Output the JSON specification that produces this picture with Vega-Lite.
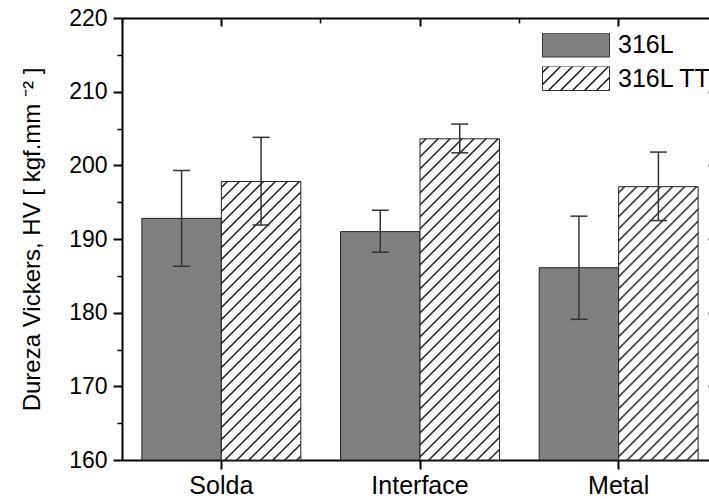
{
  "$schema": "https://vega.github.io/schema/vega-lite/v6.json",
  "width": 587,
  "height": 442,
  "autosize": "none",
  "padding": {"left": 122, "top": 18, "right": 0, "bottom": 39},
  "background": "white",
  "params": [
    {"name": "hatch", "value": [
      {"offset": 0.010294, "color": "#fff"}, {"offset": 0.014706, "color": "#000"}, {"offset": 0.019118, "color": "#fff"},
      {"offset": 0.039706, "color": "#fff"}, {"offset": 0.044118, "color": "#000"}, {"offset": 0.04853, "color": "#fff"},
      {"offset": 0.069117, "color": "#fff"}, {"offset": 0.073529, "color": "#000"}, {"offset": 0.077941, "color": "#fff"},
      {"offset": 0.098529, "color": "#fff"}, {"offset": 0.102941, "color": "#000"}, {"offset": 0.107353, "color": "#fff"},
      {"offset": 0.127941, "color": "#fff"}, {"offset": 0.132353, "color": "#000"}, {"offset": 0.136765, "color": "#fff"},
      {"offset": 0.157353, "color": "#fff"}, {"offset": 0.161765, "color": "#000"}, {"offset": 0.166177, "color": "#fff"},
      {"offset": 0.186764, "color": "#fff"}, {"offset": 0.191176, "color": "#000"}, {"offset": 0.195588, "color": "#fff"},
      {"offset": 0.216176, "color": "#fff"}, {"offset": 0.220588, "color": "#000"}, {"offset": 0.225, "color": "#fff"},
      {"offset": 0.245588, "color": "#fff"}, {"offset": 0.25, "color": "#000"}, {"offset": 0.254412, "color": "#fff"},
      {"offset": 0.275, "color": "#fff"}, {"offset": 0.279412, "color": "#000"}, {"offset": 0.283824, "color": "#fff"},
      {"offset": 0.304412, "color": "#fff"}, {"offset": 0.308824, "color": "#000"}, {"offset": 0.313236, "color": "#fff"},
      {"offset": 0.333823, "color": "#fff"}, {"offset": 0.338235, "color": "#000"}, {"offset": 0.342647, "color": "#fff"},
      {"offset": 0.363235, "color": "#fff"}, {"offset": 0.367647, "color": "#000"}, {"offset": 0.372059, "color": "#fff"},
      {"offset": 0.392647, "color": "#fff"}, {"offset": 0.397059, "color": "#000"}, {"offset": 0.401471, "color": "#fff"},
      {"offset": 0.422059, "color": "#fff"}, {"offset": 0.426471, "color": "#000"}, {"offset": 0.430883, "color": "#fff"},
      {"offset": 0.45147, "color": "#fff"}, {"offset": 0.455882, "color": "#000"}, {"offset": 0.460294, "color": "#fff"},
      {"offset": 0.480882, "color": "#fff"}, {"offset": 0.485294, "color": "#000"}, {"offset": 0.489706, "color": "#fff"},
      {"offset": 0.510294, "color": "#fff"}, {"offset": 0.514706, "color": "#000"}, {"offset": 0.519118, "color": "#fff"},
      {"offset": 0.539706, "color": "#fff"}, {"offset": 0.544118, "color": "#000"}, {"offset": 0.54853, "color": "#fff"},
      {"offset": 0.569117, "color": "#fff"}, {"offset": 0.573529, "color": "#000"}, {"offset": 0.577941, "color": "#fff"},
      {"offset": 0.598529, "color": "#fff"}, {"offset": 0.602941, "color": "#000"}, {"offset": 0.607353, "color": "#fff"},
      {"offset": 0.627941, "color": "#fff"}, {"offset": 0.632353, "color": "#000"}, {"offset": 0.636765, "color": "#fff"},
      {"offset": 0.657353, "color": "#fff"}, {"offset": 0.661765, "color": "#000"}, {"offset": 0.666177, "color": "#fff"},
      {"offset": 0.686764, "color": "#fff"}, {"offset": 0.691176, "color": "#000"}, {"offset": 0.695588, "color": "#fff"},
      {"offset": 0.716176, "color": "#fff"}, {"offset": 0.720588, "color": "#000"}, {"offset": 0.725, "color": "#fff"},
      {"offset": 0.745588, "color": "#fff"}, {"offset": 0.75, "color": "#000"}, {"offset": 0.754412, "color": "#fff"},
      {"offset": 0.775, "color": "#fff"}, {"offset": 0.779412, "color": "#000"}, {"offset": 0.783824, "color": "#fff"},
      {"offset": 0.804412, "color": "#fff"}, {"offset": 0.808824, "color": "#000"}, {"offset": 0.813236, "color": "#fff"},
      {"offset": 0.833823, "color": "#fff"}, {"offset": 0.838235, "color": "#000"}, {"offset": 0.842647, "color": "#fff"},
      {"offset": 0.863235, "color": "#fff"}, {"offset": 0.867647, "color": "#000"}, {"offset": 0.872059, "color": "#fff"},
      {"offset": 0.892647, "color": "#fff"}, {"offset": 0.897059, "color": "#000"}, {"offset": 0.901471, "color": "#fff"},
      {"offset": 0.922059, "color": "#fff"}, {"offset": 0.926471, "color": "#000"}, {"offset": 0.930883, "color": "#fff"},
      {"offset": 0.95147, "color": "#fff"}, {"offset": 0.955882, "color": "#000"}, {"offset": 0.960294, "color": "#fff"},
      {"offset": 0.980882, "color": "#fff"}, {"offset": 0.985294, "color": "#000"}, {"offset": 0.989706, "color": "#fff"}
    ]}
  ],
  "data": {"values": [
    {"cat": "Solda", "series": "316L", "v": 192.8, "lo": 186.3, "hi": 199.3},
    {"cat": "Solda", "series": "316L TT", "v": 197.8, "lo": 191.9, "hi": 203.8},
    {"cat": "Interface", "series": "316L", "v": 191.0, "lo": 188.2, "hi": 193.9},
    {"cat": "Interface", "series": "316L TT", "v": 203.6, "lo": 201.7, "hi": 205.6},
    {"cat": "Metal", "series": "316L", "v": 186.1, "lo": 179.1, "hi": 193.1},
    {"cat": "Metal", "series": "316L TT", "v": 197.1, "lo": 192.5, "hi": 201.8}
  ]},
  "layer": [
    {
      "mark": {"type": "bar", "stroke": "#222", "strokeWidth": 1},
      "encoding": {
        "x": {"field": "cat", "type": "nominal", "sort": ["Solda", "Interface", "Metal"],
          "scale": {"type": "band", "range": [0, 596], "paddingInner": 0, "paddingOuter": 0},
          "axis": {"orient": "bottom", "title": null, "labelAngle": 0, "labelFontSize": 25, "labelPadding": 4, "tickSize": 9, "tickWidth": 2, "domainWidth": 2}},
        "xOffset": {"field": "series", "type": "nominal", "sort": ["316L", "316L TT"], "scale": {"paddingInner": 0, "paddingOuter": 0.25}},
        "y": {"field": "v", "type": "quantitative",
          "scale": {"domain": [160, 220], "nice": false, "zero": false},
          "axis": {"orient": "left", "values": [160, 170, 180, 190, 200, 210, 220], "tickSize": 9, "tickWidth": 2, "domainWidth": 2, "labelFontSize": 23, "labelPadding": 6, "title": "Dureza Vickers, HV [ kgf.mm ⁻² ]", "titleFontSize": 24, "titleFontWeight": "normal", "titlePadding": 24}},
        "y2": {"datum": 160},
        "fill": {
          "field": "series", "type": "nominal",
          "scale": {"domain": ["316L", "316L TT"], "range": ["#808080", {"expr": "{gradient: 'linear', x1: 0, y1: 0, x2: 5.3971, y2: 1.9333, stops: hatch}"}]},
          "condition": [
            {"test": "datum.series === '316L TT' && datum.cat === 'Solda'", "value": {"expr": "{gradient: 'linear', x1: 0, y1: 0, x2: 0.38665, y2: 1.35486, stops: hatch}"}},
            {"test": "datum.series === '316L TT' && datum.cat === 'Interface'", "value": {"expr": "{gradient: 'linear', x1: 0, y1: 0, x2: 0.29616, y2: 1.197, stops: hatch}"}},
            {"test": "datum.series === '316L TT' && datum.cat === 'Metal'", "value": {"expr": "{gradient: 'linear', x1: 0, y1: 0, x2: 0.40024, y2: 1.37648, stops: hatch}"}}
          ],
          "legend": {
            "orient": "none", "legendX": 420, "legendY": 15, "title": null, "padding": 0,
            "symbolType": "M-1,-0.358L1,-0.358L1,0.358L-1,0.358Z", "symbolSize": 4489,
            "symbolStrokeColor": "#333", "symbolStrokeWidth": 1,
            "clipHeight": 24, "rowPadding": 8.5, "labelOffset": 8,
            "labelFontSize": 25, "labelFont": "Liberation Sans", "labelColor": "#000"
          }
        }
      }
    },
    {
      "mark": {"type": "rule", "stroke": "#333", "strokeWidth": 1.5},
      "encoding": {
        "x": {"field": "cat", "type": "nominal", "sort": ["Solda", "Interface", "Metal"],
          "axis": {"orient": "top", "labels": false, "title": null, "tickSize": -8, "tickWidth": 2, "domainWidth": 2}},
        "xOffset": {"field": "series", "type": "nominal", "sort": ["316L", "316L TT"]},
        "y": {"field": "lo", "type": "quantitative",
          "axis": {"orient": "left", "values": [165, 175, 185, 195, 205, 215], "labels": false, "domain": false, "title": null, "tickSize": 5, "tickWidth": 1.5}},
        "y2": {"field": "hi"}
      }
    },
    {
      "mark": {"type": "tick", "color": "#333", "thickness": 1.5, "size": 17, "opacity": 1},
      "encoding": {
        "x": {"field": "cat", "type": "nominal", "sort": ["Solda", "Interface", "Metal"],
          "axis": {"orient": "top", "bandPosition": 0, "labels": false, "domain": false, "title": null, "tickSize": -5, "tickWidth": 1.5}},
        "xOffset": {"field": "series", "type": "nominal", "sort": ["316L", "316L TT"]},
        "y": {"field": "hi", "type": "quantitative",
          "axis": {"orient": "right", "offset": 8, "values": [160, 170, 180, 190, 200, 210, 220], "labels": false, "domain": false, "title": null, "tickSize": -9, "tickWidth": 2}}
      }
    },
    {
      "mark": {"type": "tick", "color": "#333", "thickness": 1.5, "size": 17, "opacity": 1},
      "encoding": {
        "x": {"field": "cat", "type": "nominal", "sort": ["Solda", "Interface", "Metal"], "axis": null},
        "xOffset": {"field": "series", "type": "nominal", "sort": ["316L", "316L TT"]},
        "y": {"field": "lo", "type": "quantitative", "axis": null}
      }
    }
  ],
  "resolve": {"axis": {"x": "independent", "y": "independent"}},
  "config": {
    "view": {"stroke": null},
    "legend": {"symbolStrokeColor": "#333", "symbolStrokeWidth": 1},
    "axis": {"labelFont": "Liberation Sans", "titleFont": "Liberation Sans", "labelColor": "#000", "titleColor": "#000", "tickColor": "#000", "domainColor": "#000", "grid": false}
  }
}
